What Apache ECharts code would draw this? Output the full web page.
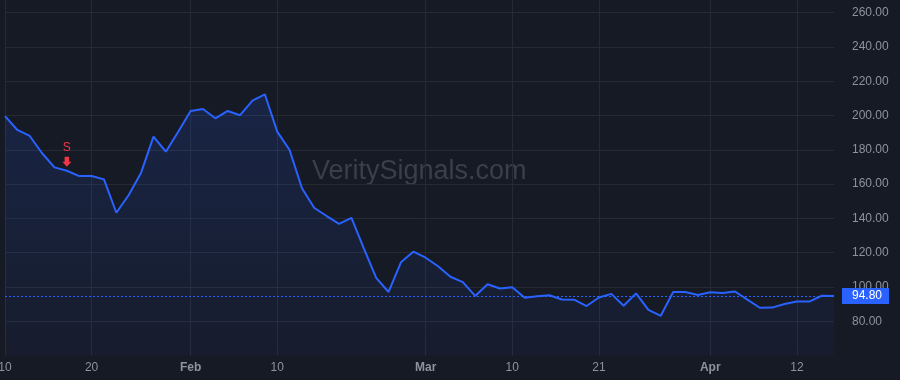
<!DOCTYPE html>
<html>
<head>
<meta charset="utf-8">
<script src="https://cdn.jsdelivr.net/npm/echarts@6/dist/echarts.min.js"></script>
<style>
html,body{margin:0;padding:0;background:#161a25;}
#chart{width:900px;height:380px;}
</style>
</head>
<body>
<div id="chart"></div>
<script>
// Trading days (2022)
const dates = [
  '2022-01-10','2022-01-11','2022-01-12','2022-01-13','2022-01-14','2022-01-18','2022-01-19','2022-01-20','2022-01-21','2022-01-24','2022-01-25','2022-01-26','2022-01-27','2022-01-28','2022-01-31',
  '2022-02-01','2022-02-02','2022-02-03','2022-02-04','2022-02-07','2022-02-08','2022-02-09','2022-02-10','2022-02-11','2022-02-14','2022-02-15','2022-02-16','2022-02-17','2022-02-18','2022-02-22','2022-02-23','2022-02-24','2022-02-25','2022-02-28',
  '2022-03-01','2022-03-02','2022-03-03','2022-03-04','2022-03-07','2022-03-08','2022-03-09','2022-03-10','2022-03-11','2022-03-14','2022-03-15','2022-03-16','2022-03-17','2022-03-18','2022-03-21','2022-03-22','2022-03-23','2022-03-24','2022-03-25','2022-03-28','2022-03-29','2022-03-30','2022-03-31',
  '2022-04-01','2022-04-04','2022-04-05','2022-04-06','2022-04-07','2022-04-08','2022-04-11','2022-04-12','2022-04-13','2022-04-14','2022-04-18'
];
const closes = [
  199.7,191.6,188.1,178.0,169.8,167.8,164.7,164.7,162.8,143.3,153.7,166.7,187.7,178.9,190.6,
  202.7,203.8,198.4,202.7,200.2,208.7,212.4,190.6,179.9,157.6,146.1,141.4,136.8,140.3,122.6,105.3,97.1,114.4,120.6,
  117.1,112.1,106.0,102.9,94.8,101.6,99.1,99.9,93.8,94.6,95.2,92.7,92.6,88.9,93.9,96.0,89.1,96.3,86.7,83.2,97.1,97.1,95.3,
  97.0,96.5,97.4,92.6,87.9,88.0,90.1,91.5,91.5,94.9,94.8
];
const xTickIndex = [0, 7, 15, 22, 34, 41, 48, 57, 64];
const xTickText  = ['10', '20', 'Feb', '10', 'Mar', '10', '21', 'Apr', '12'];
const monthTicks = ['Feb', 'Mar', 'Apr'];
const yMin = 60, yMax = 267.4, yStep = 20;
const lastPrice = 94.80;
const signalIndex = 5;
const signalText = 'S';
const watermark = 'VeritySignals.com';

const FONT = "'Liberation Sans', Arial, sans-serif";
const chart = echarts.init(document.getElementById('chart'), null, {renderer: 'canvas'});

chart.setOption({
  backgroundColor: '#161a25',
  animation: false,
  graphic: [{
    type: 'text', left: 312, top: 158, z: -10, silent: true,
    style: { text: watermark, fill: '#3b3f4b', font: "27px 'Liberation Sans', Arial, sans-serif" }
  }],
  grid: { left: 5, right: 66, top: 0, bottom: 24.4, containLabel: false, outerBoundsMode: 'none' },
  xAxis: {
    type: 'category', data: dates, boundaryGap: false,
    axisLine: { show: false }, axisTick: { show: false },
    axisLabel: {
      interval: (i) => xTickIndex.includes(i),
      margin: 6, color: '#8f929b', fontSize: 12, fontFamily: FONT,
      formatter: (v, i) => {
        const k = xTickIndex.indexOf(i);
        if (k < 0) return '';
        const t = xTickText[k];
        return monthTicks.includes(t) ? '{b|' + t + '}' : t;
      },
      rich: { b: { fontWeight: 'bold', color: '#8f929b', fontSize: 12, fontFamily: FONT } }
    },
    splitLine: { show: true, interval: (i) => xTickIndex.includes(i), lineStyle: { color: '#262a35', width: 1 } }
  },
  yAxis: {
    type: 'value', position: 'right', min: yMin, max: yMax, interval: yStep,
    axisLine: { show: false }, axisTick: { show: false },
    axisLabel: {
      showMinLabel: false, showMaxLabel: false, align: 'left', margin: 18,
      color: '#8f929b', fontSize: 12, fontFamily: FONT,
      formatter: (v) => v.toFixed(2)
    },
    splitLine: { show: true, showMinLine: false, showMaxLine: false, lineStyle: { color: '#262a35', width: 1 } }
  },
  series: [{
    type: 'line', data: closes, symbol: 'none', smooth: false,
    lineStyle: { color: '#2962ff', width: 2 },
    areaStyle: {
      origin: 'start',
      color: new echarts.graphic.LinearGradient(0, 0, 0, 1, [
        { offset: 0, color: 'rgba(41,98,255,0.21)' },
        { offset: 1, color: 'rgba(41,98,255,0.05)' }
      ])
    },
    markLine: {
      silent: true, symbol: 'none',
      lineStyle: { color: '#2962ff', type: [2, 2], width: 1 },
      label: {
        show: true, position: 'end', distance: 8,
        formatter: () => lastPrice.toFixed(2),
        backgroundColor: '#2962ff', color: '#ffffff', fontSize: 12, fontFamily: FONT,
        padding: [2, 7, 2, 10], lineHeight: 12
      },
      data: [{ yAxis: lastPrice }]
    },
    markPoint: {
      silent: true,
      symbol: 'path://M2.5,0 L7.5,0 L7.5,5 L10,5 L5,10 L0,5 L2.5,5 Z',
      symbolSize: [9, 10], symbolOffset: [0, -9],
      itemStyle: { color: '#f23645' },
      label: { show: true, position: 'top', distance: 3, formatter: signalText, color: '#f23645', fontSize: 12, fontFamily: FONT },
      data: [{ coord: [signalIndex, closes[signalIndex]] }]
    }
  }]
});
</script>
</body>
</html>
